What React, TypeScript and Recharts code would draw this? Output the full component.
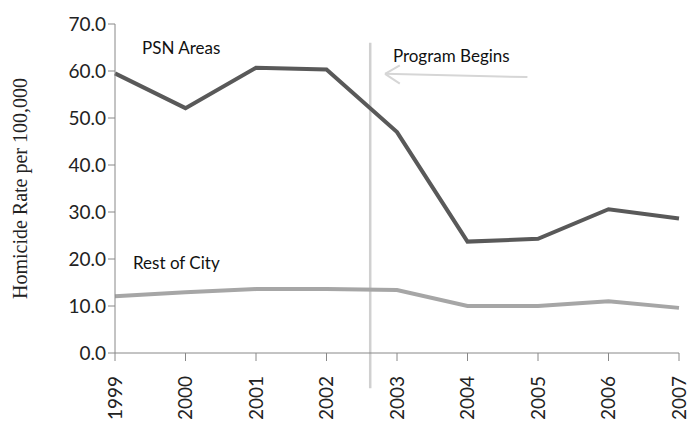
import React from "react";
import { LineChart, Line, XAxis, YAxis, ReferenceLine, ReferenceDot } from "recharts";

const years = [1999, 2000, 2001, 2002, 2003, 2004, 2005, 2006, 2007];
const psnAreas = [59.5, 52.1, 60.7, 60.3, 47.0, 23.7, 24.3, 30.6, 28.6];
const restOfCity = [12.1, 12.9, 13.6, 13.6, 13.4, 10.0, 10.0, 11.0, 9.6];
const yTicks = [0, 10, 20, 30, 40, 50, 60, 70];

const programStart = 2002.62;

const data = years.map((year, i) => ({ year, psn: psnAreas[i], rest: restOfCity[i] }));

const labelFont = "Lato, 'Open Sans', sans-serif";

const XTick = (props: any) => {
  const { x, y, payload } = props;
  return (
    <text
      x={x}
      y={y + 13}
      transform={`rotate(-90 ${x} ${y + 13})`}
      textAnchor="end"
      dy="0.35em"
      fontSize={19}
      fontFamily={labelFont}
      fill="#222"
    >
      {payload.value}
    </text>
  );
};

export default function App() {
  return (
    <div style={{ position: "absolute", left: 0, top: 0, background: "#fff" }}>
      <LineChart width={696} height={431} data={data} margin={{ top: 24, right: 17, bottom: 0, left: 0 }}>
        <XAxis
          dataKey="year"
          type="number"
          domain={[1999, 2007]}
          ticks={years}
          interval={0}
          stroke="#888"
          tickSize={8}
          tick={<XTick />}
          height={78}
        />
        <YAxis
          type="number"
          domain={[0, 70]}
          ticks={yTicks}
          interval={0}
          width={115}
          stroke="#888"
          tickSize={7}
          tickFormatter={(v: number) => v.toFixed(1)}
          tick={{ fontSize: 19, fontFamily: labelFont, fill: "#222" }}
          label={{
            value: "Homicide Rate per 100,000",
            angle: -90,
            position: "insideLeft",
            offset: 20,
            style: { textAnchor: "middle", fontSize: 20, fontFamily: "'Liberation Serif', serif", fill: "#222" },
          }}
        />
        <ReferenceLine
          segment={[{ x: programStart, y: -7.5 }, { x: programStart, y: 66 }]}
          stroke="#d0d0d0"
          strokeWidth={2.5}
          ifOverflow="visible"
        />
        <ReferenceLine
          segment={[{ x: 2004.85, y: 58.7 }, { x: 2002.83, y: 59.4 }]}
          stroke="#d6d6d6"
          strokeWidth={2}
          ifOverflow="visible"
        />
        <ReferenceLine
          segment={[{ x: 2002.83, y: 59.4 }, { x: 2003.04, y: 61.2 }]}
          stroke="#d6d6d6"
          strokeWidth={2}
          ifOverflow="visible"
        />
        <ReferenceLine
          segment={[{ x: 2002.83, y: 59.4 }, { x: 2003.04, y: 57.3 }]}
          stroke="#d6d6d6"
          strokeWidth={2}
          ifOverflow="visible"
        />
        <Line dataKey="psn" stroke="#595959" strokeWidth={4} dot={false} isAnimationActive={false} />
        <Line dataKey="rest" stroke="#a6a6a6" strokeWidth={4} dot={false} isAnimationActive={false} />
        <ReferenceDot
          x={1999.94}
          y={64.9}
          r={0}
          fill="none"
          stroke="none"
          label={{ value: "PSN Areas", position: "center", fontSize: 17, fontFamily: labelFont, fill: "#111" }}
        />
        <ReferenceDot
          x={2003.77}
          y={63.3}
          r={0}
          fill="none"
          stroke="none"
          label={{ value: "Program Begins", position: "center", fontSize: 17, fontFamily: labelFont, fill: "#111" }}
        />
        <ReferenceDot
          x={1999.87}
          y={19.1}
          r={0}
          fill="none"
          stroke="none"
          label={{ value: "Rest of City", position: "center", fontSize: 17, fontFamily: labelFont, fill: "#111" }}
        />
      </LineChart>
    </div>
  );
}
